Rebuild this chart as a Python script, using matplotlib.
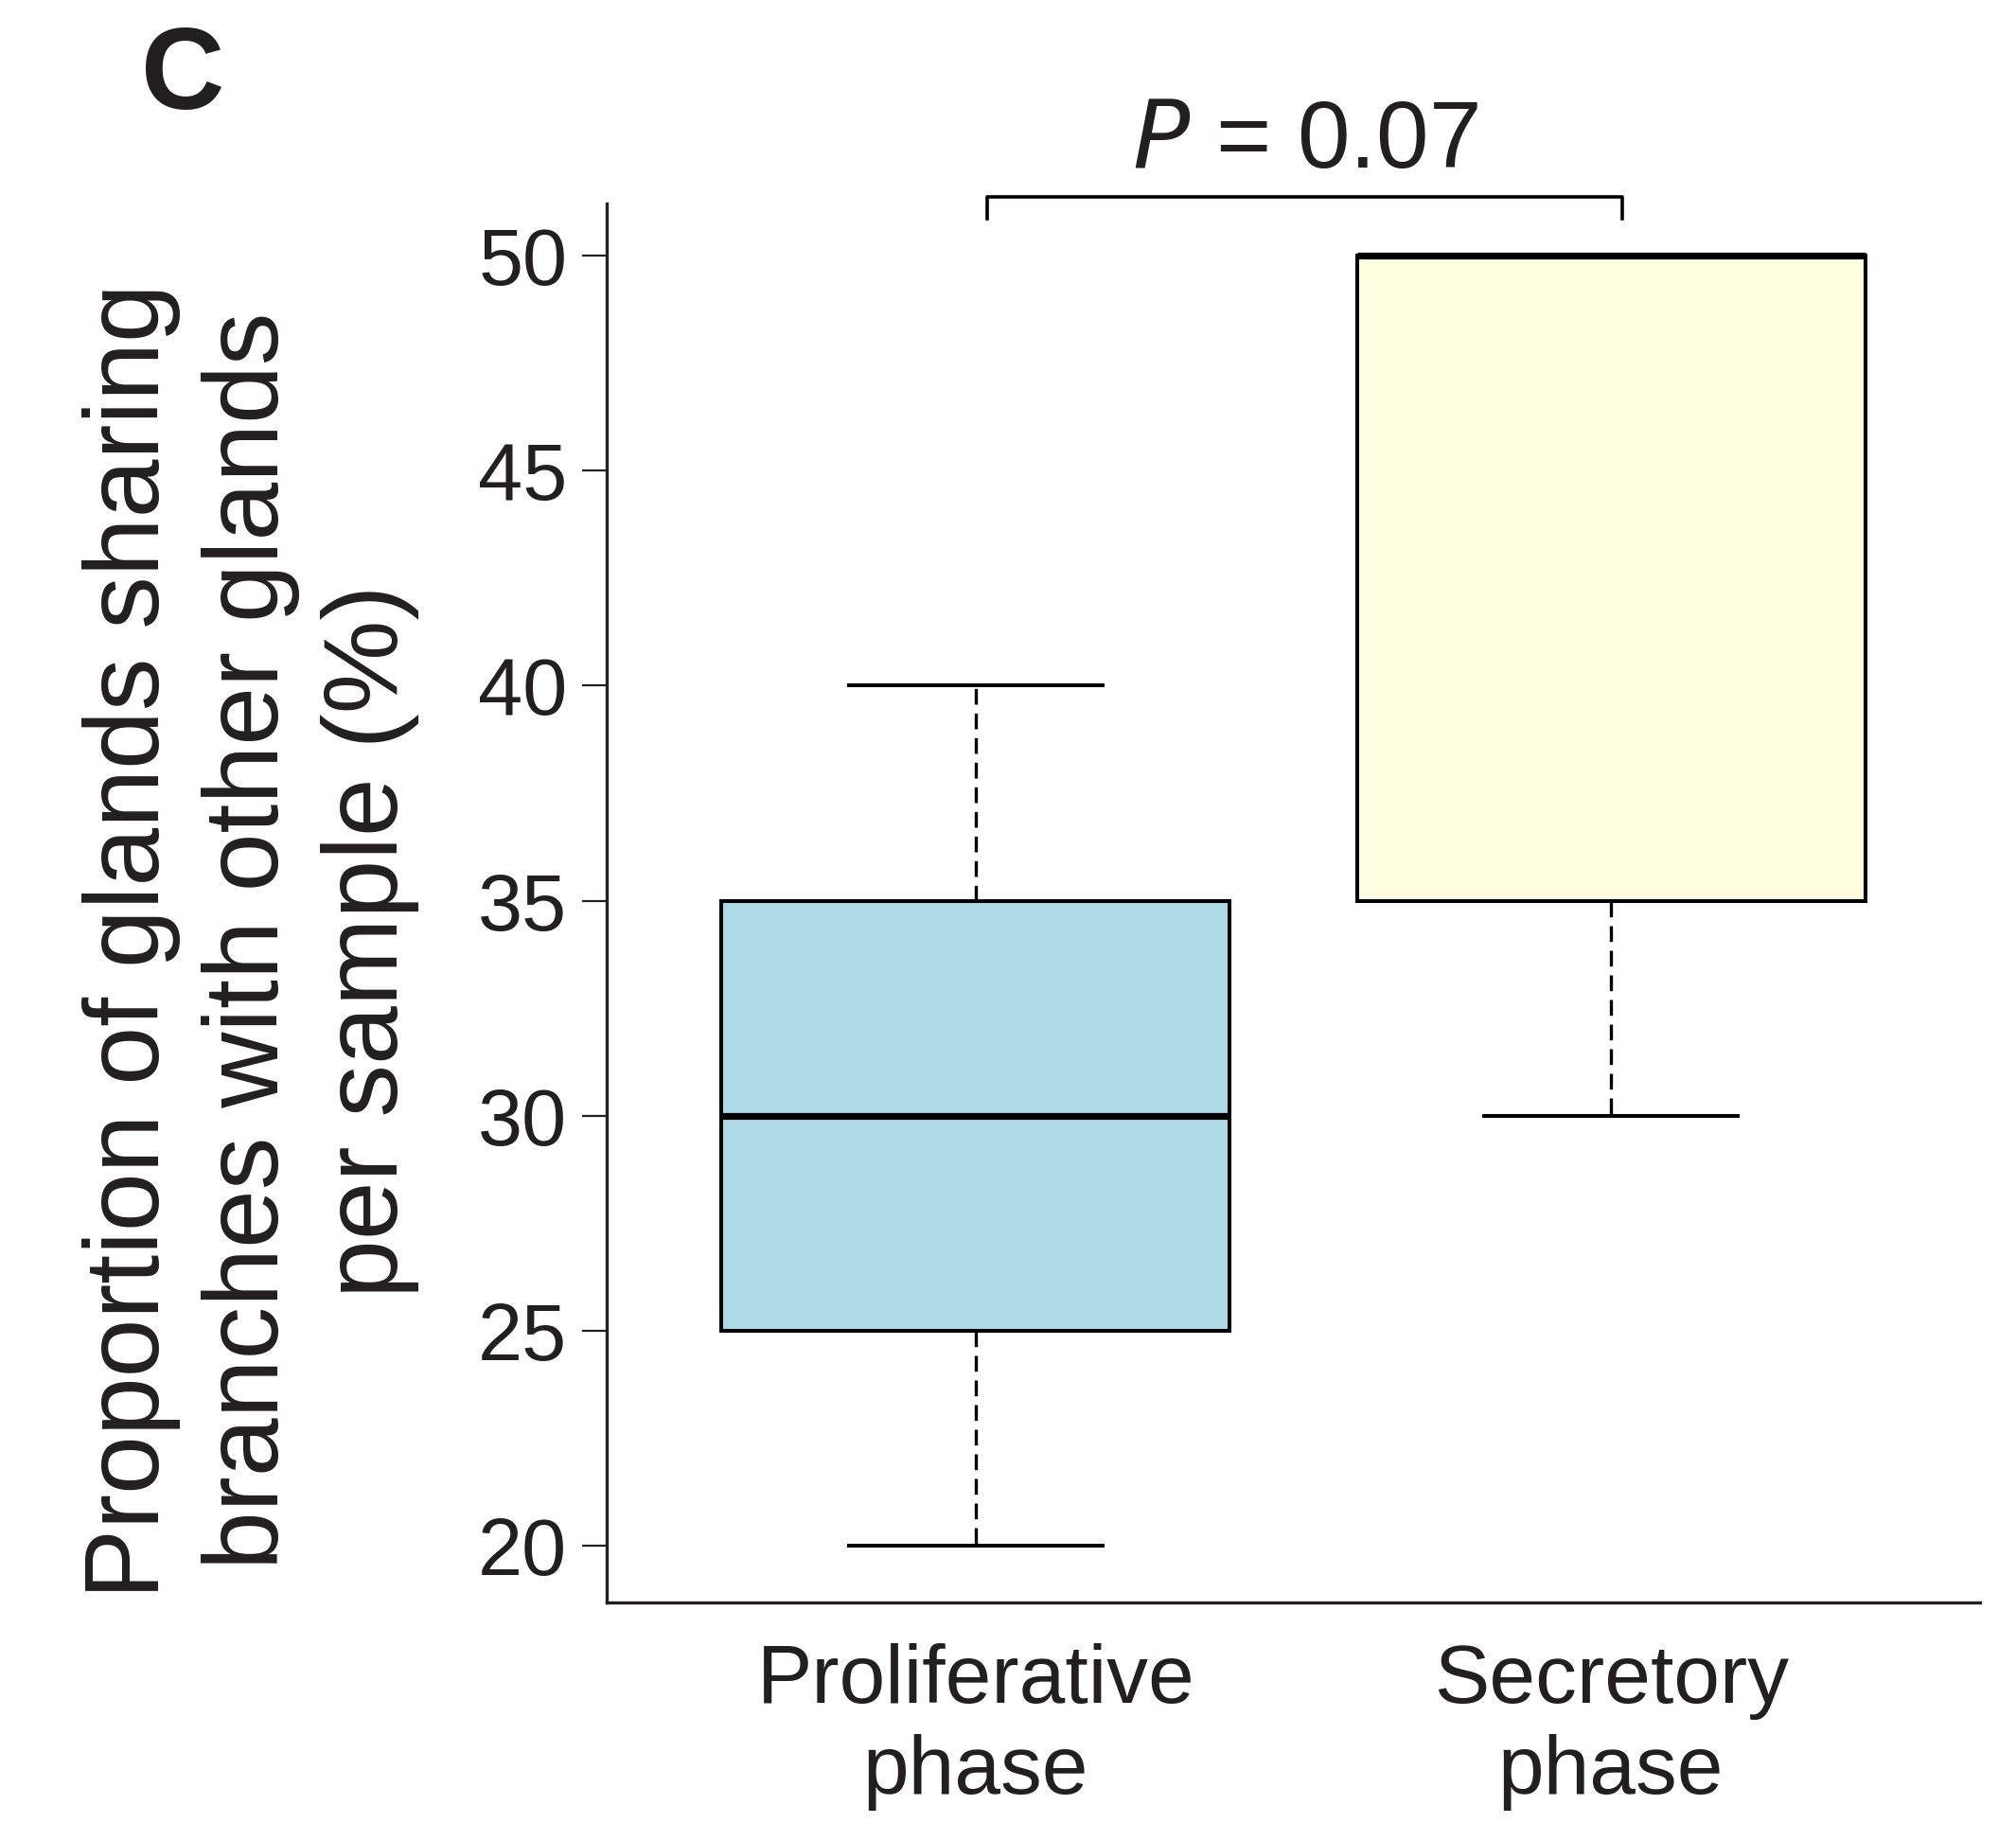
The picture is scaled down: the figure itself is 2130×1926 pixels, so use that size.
import matplotlib
matplotlib.use("Agg")
import matplotlib.pyplot as plt

# Data
groups = ["Proliferative\nphase", "Secretory\nphase"]
whisker_low = [20, 30]
q1 = [25, 35]
median = [30, 50]
q3 = [35, 50]
whisker_high = [40, 50]
box_colors = ["#ADD8E6", "#FFFDE0"]
p_text = "= 0.07"
y_ticks = [20, 25, 30, 35, 40, 45, 50]

ink = "#231F20"
plt.rcParams["font.family"] = ["Liberation Sans", "DejaVu Sans"]
plt.rcParams["text.color"] = ink

fig = plt.figure(figsize=(21.3, 19.26), dpi=100)
ax = fig.add_axes([0.3009, 0.1212, 0.6813, 0.7674])

positions = list(range(1, len(groups) + 1))
stats = []
for i in range(len(groups)):
    stats.append({
        "whislo": whisker_low[i], "q1": q1[i], "med": median[i],
        "q3": q3[i], "whishi": whisker_high[i], "fliers": [],
    })

bp = ax.bxp(
    stats, positions=positions, widths=0.8, patch_artist=True,
    showfliers=False,
    boxprops=dict(linewidth=2.9, edgecolor="black"),
    medianprops=dict(linewidth=5.2, color="black"),
    whiskerprops=dict(linewidth=2.4, color="black", linestyle=(0, (5, 2.8))),
    capprops=dict(linewidth=2.9, color="black"),
    capwidths=0.4,
)
for patch, c in zip(bp["boxes"], box_colors):
    patch.set_facecolor(c)

ax.set_xlim(0.419, 2.581)
ax.set_ylim(18.68, 51.23)
ax.set_yticks(y_ticks)
ax.set_xticks(positions)
ax.set_xticklabels(groups, fontsize=63, color=ink, linespacing=1.25)
ax.tick_params(axis="x", length=0, pad=31)
ax.tick_params(axis="y", labelsize=61, length=19, width=1.6, color=ink,
               pad=11, labelcolor=ink)

for side in ["top", "right"]:
    ax.spines[side].set_visible(False)
for side in ["left", "bottom"]:
    ax.spines[side].set_linewidth(2.4)
    ax.spines[side].set_color(ink)

# significance bracket
y_bar = 51.38
y_end = 50.87
x0, x1 = positions[0] + 0.018, positions[1] + 0.018
ax.plot([x0, x0, x1, x1], [y_end, y_bar, y_bar, y_end], color="black",
        linewidth=2.6, clip_on=False)
fig.text(1379 / 2130, 1 - 177 / 1926, r"$\it{P}$ " + p_text, fontsize=72,
         ha="center", va="baseline")

# y label
fig.text(0.1244, 0.484,
         "Proportion of glands sharing\nbranches with other glands\nper sample (%)",
         rotation=90, ha="center", va="center", multialignment="center",
         fontsize=80, linespacing=1.27)

# panel letter
fig.text(149 / 2130, 1 - 115 / 1926, "C", fontsize=88, fontweight="bold",
         ha="left", va="baseline")

fig.savefig("out.png", dpi=100)
